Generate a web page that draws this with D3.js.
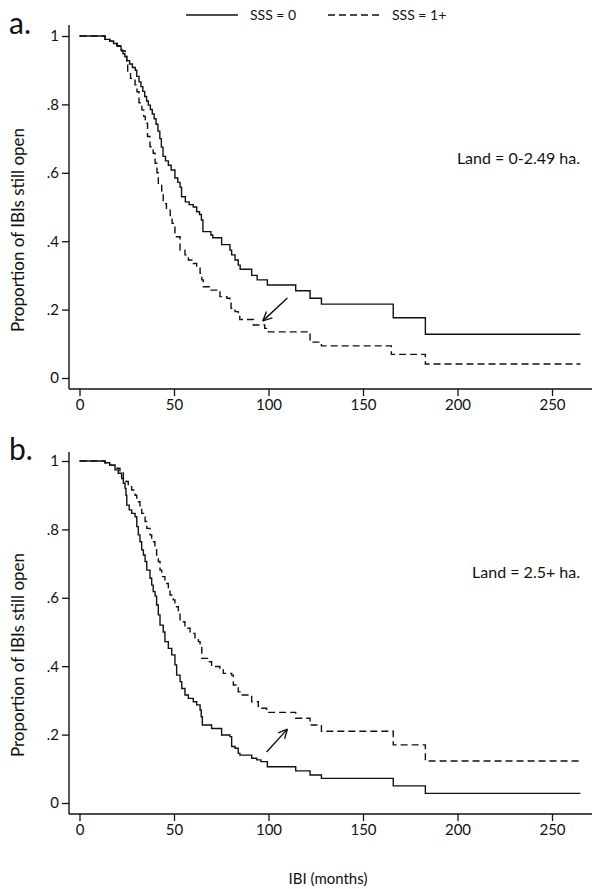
<!DOCTYPE html>
<html lang="en">
<head>
    <meta charset="UTF-8">
    <title>IBI survival curves</title>
    <script src="https://d3js.org/d3.v7.min.js"></script>
    <style>
        body { margin: 0; background: #fff; }
        svg text { font-family: Lato, "Open Sans", sans-serif; fill: #111; }
        .tick text { font-size: 15px; }
        .curve { fill: none; stroke: #111; stroke-width: 1.4px; }
        .axisline { stroke: #111; stroke-width: 1.4px; }
    </style>
</head>
<body>
    <script>
        // Kaplan-Meier steps: [months, proportion still open]
        var landSmall_sss0 = [[0,1],[13.5,0.99],[16,0.985],[18,0.978],[20,0.97],[22,0.958],[23,0.948],[24,0.94],[25,0.928],[26.5,0.918],[28,0.908],[29.5,0.9],[30.3,0.882],[31.5,0.866],[32.5,0.852],[33.5,0.838],[34.5,0.823],[35.5,0.81],[36.4,0.798],[37.5,0.785],[38.5,0.772],[39.5,0.758],[40.5,0.742],[41.5,0.722],[42.5,0.7],[43.3,0.675],[44.2,0.648],[45.5,0.635],[47,0.622],[48.5,0.608],[50.5,0.585],[52,0.572],[53.2,0.558],[54,0.53],[56,0.515],[58,0.507],[60.2,0.5],[62,0.486],[63.5,0.478],[64.5,0.462],[65.3,0.428],[69.5,0.418],[70.5,0.41],[75.2,0.39],[79.6,0.374],[80.5,0.36],[82.3,0.345],[84,0.33],[85,0.318],[91.1,0.3],[94,0.287],[99.4,0.272],[114.4,0.255],[122,0.233],[128,0.216],[166,0.176],[183,0.128],[265,0.128]];
        var landSmall_sss1 = [[0,1],[13.5,0.99],[16,0.985],[19.7,0.972],[22.3,0.956],[24.2,0.94],[25,0.915],[25.5,0.89],[27,0.876],[29.4,0.857],[30.4,0.837],[31.5,0.805],[33,0.784],[34,0.765],[34.8,0.745],[36,0.706],[37.3,0.676],[39,0.657],[40,0.628],[41,0.6],[41.7,0.569],[43.5,0.54],[44.3,0.51],[46,0.491],[48,0.472],[49,0.452],[50.5,0.413],[53.2,0.374],[55.8,0.36],[57.6,0.345],[60.2,0.335],[62,0.325],[63.8,0.306],[64.7,0.287],[65.5,0.267],[69,0.257],[72.6,0.252],[74.3,0.238],[78,0.233],[79.6,0.228],[80.2,0.204],[82.3,0.194],[84,0.184],[84.8,0.171],[92,0.155],[98,0.145],[100,0.135],[122,0.105],[128,0.094],[165,0.069],[183,0.041],[265,0.041]];
        var landLarge_sss0 = [[0,1],[13.5,0.995],[16,0.988],[18.8,0.974],[20.5,0.964],[22.3,0.949],[23.2,0.935],[24.1,0.92],[24.6,0.9],[25,0.871],[26.3,0.857],[27.6,0.847],[29.4,0.837],[30.3,0.808],[31.1,0.784],[32,0.764],[32.9,0.74],[33.8,0.725],[34.7,0.706],[35.6,0.681],[37.3,0.657],[38.2,0.637],[39,0.618],[40,0.605],[40.8,0.579],[41.7,0.55],[42.6,0.52],[44.3,0.5],[45.2,0.472],[47,0.452],[48.8,0.433],[50.5,0.404],[51.4,0.374],[53.2,0.355],[54.1,0.335],[55.8,0.316],[57.6,0.306],[60.2,0.296],[62,0.287],[63.8,0.272],[64.4,0.252],[65,0.228],[69.9,0.218],[75.2,0.199],[79.6,0.194],[80.5,0.165],[82.3,0.16],[84,0.145],[84.9,0.14],[91.1,0.131],[93.8,0.126],[96,0.121],[99.4,0.106],[114.4,0.094],[122,0.082],[128,0.072],[166,0.05],[183,0.028],[265,0.028]];
        var landLarge_sss1 = [[0,1],[13.5,0.995],[16,0.988],[18.8,0.979],[21.4,0.969],[23.2,0.949],[24.6,0.94],[25.8,0.925],[27.6,0.915],[29.4,0.9],[30.3,0.881],[32,0.862],[32.9,0.847],[34.7,0.823],[35.6,0.803],[37.3,0.784],[38.2,0.764],[39.9,0.745],[40.8,0.725],[41.7,0.706],[42.6,0.681],[43.5,0.662],[45.2,0.642],[47,0.628],[47.9,0.608],[49.6,0.594],[50.5,0.574],[52.3,0.559],[53.2,0.53],[55.8,0.511],[58.5,0.496],[61.1,0.483],[62.9,0.472],[63.8,0.462],[64.7,0.423],[68.1,0.413],[69.9,0.399],[74.3,0.394],[76.1,0.379],[80.5,0.374],[81.4,0.345],[84,0.325],[84.9,0.316],[91.1,0.296],[94.6,0.277],[99,0.272],[99.4,0.265],[114.4,0.248],[122,0.228],[128,0.21],[166,0.17],[183,0.123],[265,0.123]];

        var xTicks = [0, 50, 100, 150, 200, 250];
        var yTicks = [0, 0.2, 0.4, 0.6, 0.8, 1];
        var seriesLabels = ["SSS = 0", "SSS = 1+"];
        var panelLabels = ["a.", "b."];
        var landLabels = ["Land = 0-2.49 ha.", "Land = 2.5+ ha."];
        // arrows: [tail month, tail prop, head month, head prop]
        var arrows = [[110, 0.234, 97, 0.167], [99, 0.149, 110, 0.216]];

        var width = 600, height = 889;
        var svg = d3.select("body").append("svg")
            .attr("width", width)
            .attr("height", height);

        var x = d3.scaleLinear().domain([0, 250]).range([79.5, 552]);

        var panels = [
            { top: 36, bottom: 378, axisTop: 25, axisY: 389, data: [landSmall_sss0, landSmall_sss1], labelY: 34, landY: 164 },
            { top: 461, bottom: 803, axisTop: 452, axisY: 814, data: [landLarge_sss0, landLarge_sss1], labelY: 460, landY: 578 }
        ];

        var yFormat = d => d === 0 ? "0" : d === 1 ? "1" : d3.format(".1f")(d).replace(/^0/, "");

        panels.forEach(function(p, i) {
            var y = d3.scaleLinear().domain([0, 1]).range([p.bottom, p.top]);
            var g = svg.append("g");

            // axes, drawn offset from the plot area
            g.append("line").attr("class", "axisline")
                .attr("x1", 69).attr("x2", 69).attr("y1", p.axisTop).attr("y2", p.axisY);
            g.append("line").attr("class", "axisline")
                .attr("x1", 69).attr("x2", 592).attr("y1", p.axisY).attr("y2", p.axisY);

            var yAxis = g.append("g")
                .attr("transform", "translate(69,0)")
                .call(d3.axisLeft(y).tickValues(yTicks).tickSize(7).tickPadding(3).tickFormat(yFormat));
            yAxis.select(".domain").remove();

            var xAxis = g.append("g")
                .attr("transform", `translate(0,${p.axisY})`)
                .call(d3.axisBottom(x).tickValues(xTicks).tickSize(7).tickPadding(3));
            xAxis.select(".domain").remove();

            g.selectAll(".tick line").attr("stroke", "#111").attr("stroke-width", 1.3);
            g.selectAll(".tick text").attr("fill", "#111");

            var line = d3.line()
                .x(d => x(d[0]))
                .y(d => y(d[1]))
                .curve(d3.curveStepAfter);

            g.append("path").attr("class", "curve").attr("d", line(p.data[0]));
            g.append("path").attr("class", "curve")
                .attr("stroke-dasharray", "7,4")
                .attr("d", line(p.data[1]));

            // y title
            g.append("text")
                .attr("transform", `translate(24,${(p.top + p.bottom) / 2 + 23}) rotate(-90)`)
                .attr("text-anchor", "middle")
                .style("font-size", "17px")
                .text("Proportion of IBIs still open");

            g.append("text")
                .attr("x", 9).attr("y", p.labelY)
                .style("font-size", "30px")
                .text(panelLabels[i]);

            g.append("text")
                .attr("x", 580).attr("y", p.landY)
                .attr("text-anchor", "end")
                .style("font-size", "16px")
                .text(landLabels[i]);

            // arrow
            var a = arrows[i];
            var x1 = x(a[0]), y1 = y(a[1]), x2 = x(a[2]), y2 = y(a[3]);
            var ang = Math.atan2(y2 - y1, x2 - x1);
            g.append("line").attr("class", "axisline")
                .attr("x1", x1).attr("y1", y1).attr("x2", x2).attr("y2", y2);
            [-0.45, 0.45].forEach(function(da) {
                g.append("line").attr("class", "axisline")
                    .attr("x1", x2).attr("y1", y2)
                    .attr("x2", x2 - 10 * Math.cos(ang + da))
                    .attr("y2", y2 - 10 * Math.sin(ang + da));
            });
        });

        // x title
        svg.append("text")
            .attr("x", 328).attr("y", 884)
            .attr("text-anchor", "middle")
            .style("font-size", "15px")
            .text("IBI (months)");

        // legend
        var legend = svg.append("g");
        var legendX = [186, 328];
        seriesLabels.forEach(function(lab, i) {
            legend.append("line").attr("class", "curve")
                .attr("x1", legendX[i]).attr("x2", legendX[i] + 52)
                .attr("y1", 15).attr("y2", 15)
                .attr("stroke-dasharray", i === 1 ? "7,4" : null);
            legend.append("text")
                .attr("x", legendX[i] + 64).attr("y", 20)
                .style("font-size", "14px")
                .text(lab);
        });
    </script>
</body>
</html>
